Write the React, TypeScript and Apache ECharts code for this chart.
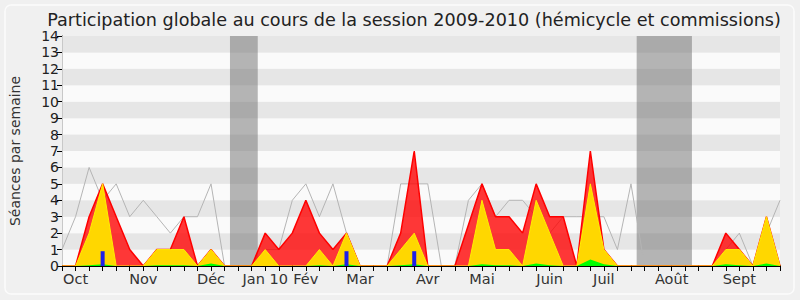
import React, { useEffect, useRef } from "react";
import * as echarts from "echarts";

// Weekly values (index = week of the session)
const weeks: number[] = Array.from({ length: 54 }, (_, i) => i);
const monthLabels: { [k: number]: string } = {
  1: "Oct", 6: "Nov", 11: "Déc", 15: "Jan 10", 18: "Fév", 22: "Mar",
  27: "Avr", 31: "Mai", 36: "Juin", 40: "Juil", 45: "Août", 50: "Sept",
};
const totalPresence = [1, 3, 6, 4, 5, 3, 4, 3, 2, 3, 3, 5, 0, 0, 0, 1, 1, 4, 5, 3, 5, 2, 0, 0, 0, 5, 5, 5, 0, 0, 4, 5, 3, 4, 4, 3, 2, 3, 3, 3, 3, 1, 5, 0, 0, 0, 0, 0, 0, 1, 2, 0, 2, 4];
const presences = [0, 0, 3, 5, 3, 1, 0, 1, 1, 3, 0, 1, 0, 0, 0, 2, 1, 2, 4, 2, 1, 2, 0, 0, 0, 2, 7, 0, 0, 0, 2.5, 5, 3, 3, 2, 5, 3, 3, 0, 7, 1, 0, 0, 0, 0, 0, 0, 0, 0, 2, 1, 0, 3, 0];
const commissions = [0, 0, 2, 5, 0, 0, 0, 1, 1, 1, 0, 1, 0, 0, 0, 1, 0, 0, 0, 1, 0, 2, 0, 0, 0, 1, 2, 0, 0, 0, 0, 4, 1, 1, 0, 4, 2, 0, 0, 5, 1, 0, 0, 0, 0, 0, 0, 0, 0, 1, 1, 0, 3, 0];
const interventions = [0, 0, 0.05, 0.1, 0, 0, 0, 0.05, 0.05, 0.05, 0, 0.15, 0, 0, 0, 0, 0, 0, 0, 0.05, 0, 0.1, 0, 0, 0, 0.05, 0.1, 0, 0, 0, 0, 0.1, 0.05, 0.05, 0, 0.15, 0.05, 0, 0, 0.4, 0.1, 0, 0, 0, 0, 0, 0, 0, 0, 0.1, 0.05, 0, 0.15, 0];
const questions = [0, 0, 0, 0.9, 0, 0, 0, 0, 0, 0, 0, 0, 0, 0, 0, 0, 0, 0, 0, 0, 0, 0.9, 0, 0, 0, 0, 0.9, 0, 0, 0, 0, 0, 0, 0, 0, 0, 0, 0, 0, 0, 0, 0, 0, 0, 0, 0, 0, 0, 0, 0, 0, 0, 0, 0];
const vacations: [number, number][] = [[12.4, 14.45], [42.42, 46.5]];

const pair = (arr: number[]) => weeks.map((w) => [w, arr[w]]);

const FONT = "DejaVu Sans";

export default function App() {
  const ref = useRef<HTMLDivElement>(null);
  useEffect(() => {
    if (!ref.current) return;
    const chart = echarts.init(ref.current, undefined, { renderer: "svg" });
    chart.setOption({
      animation: false,
      backgroundColor: "#f0f0f0",
      textStyle: { fontFamily: FONT },
      graphic: [
        {
          type: "rect",
          shape: { x: 5, y: 5, width: 789, height: 289, r: 6 },
          style: { fill: "none", stroke: "#fbfbfb", lineWidth: 1.5 },
          z: -1,
        },
      ],
      title: {
        text: "Participation globale au cours de la session 2009-2010 (hémicycle et commissions)",
        left: 409,
        textAlign: "center",
        top: 6,
        textStyle: { fontFamily: FONT, fontSize: 17.6, fontWeight: "normal", color: "#222" },
      },
      grid: { left: 62, right: 20, top: 36, bottom: 34 },
      xAxis: [
        {
          type: "value",
          min: 0,
          max: 53,
          interval: 1,
          z: 10,
          axisLine: { show: true, lineStyle: { color: "#000" } },
          axisTick: { show: true, length: 5, lineStyle: { color: "#000" } },
          axisLabel: {
            showMinLabel: true,
            showMaxLabel: true,
            formatter: (v: number) => monthLabels[v] ?? "",
            fontFamily: FONT,
            fontSize: 14.5,
            color: "#333",
            margin: 5,
          },
          splitLine: { show: false },
        },
        {
          type: "value",
          position: "top",
          min: 0,
          max: 53,
          interval: 1,
          axisLine: { show: false },
          axisTick: { show: true, length: 1, lineStyle: { color: "#000" } },
          axisLabel: { show: false },
          splitLine: { show: false },
        },
      ],
      yAxis: [
        {
          type: "value",
          min: 0,
          max: 14,
          interval: 1,
          name: "Séances par semaine",
          nameLocation: "middle",
          nameGap: 40,
          nameTextStyle: { fontFamily: FONT, fontSize: 14, color: "#333" },
          axisLine: { show: true, lineStyle: { color: "#000" } },
          axisTick: { show: true, length: 5, lineStyle: { color: "#000" } },
          axisLabel: { fontFamily: FONT, fontSize: 14, color: "#222", margin: 3 },
          splitLine: { show: false },
          splitArea: { show: true, areaStyle: { color: ["#fafafa", "#e6e6e6"] } },
        },
        {
          type: "value",
          position: "right",
          min: 0,
          max: 14,
          interval: 1,
          axisLine: { show: true, lineStyle: { color: "#c8c8c8" } },
          axisTick: { show: false },
          axisLabel: { show: false },
          splitLine: { show: false },
        },
      ],
      series: [
        {
          type: "line",
          name: "total",
          data: pair(totalPresence),
          symbol: "none",
          lineStyle: { color: "#b4b4b4", width: 1 },
          z: 2,
          markArea: {
            silent: true,
            itemStyle: { color: "rgba(102,102,102,0.47)" },
            data: vacations.map(([a, b]) => [{ xAxis: a }, { xAxis: b }]),
          },
        },
        {
          type: "line",
          name: "presences",
          data: pair(presences),
          symbol: "none",
          lineStyle: { color: "#ff0000", width: 1.5 },
          areaStyle: { color: "rgba(255,0,0,0.78)", opacity: 1 },
          z: 3,
        },
        {
          type: "line",
          name: "commissions",
          data: pair(commissions),
          symbol: "none",
          lineStyle: { color: "#ffee00", width: 1 },
          areaStyle: { color: "#ffd700", opacity: 1 },
          z: 4,
        },
        {
          type: "line",
          name: "interventions",
          data: pair(interventions),
          symbol: "none",
          lineStyle: { width: 0 },
          areaStyle: { color: "#00ff00", opacity: 1 },
          z: 5,
        },
        {
          type: "bar",
          name: "questions",
          data: pair(questions),
          barWidth: 4,
          itemStyle: { color: "#2020e8" },
          z: 6,
        },
      ],
    });
    return () => chart.dispose();
  }, []);
  return <div ref={ref} style={{ width: 800, height: 300, position: "absolute", left: 0, top: 0 }} />;
}
